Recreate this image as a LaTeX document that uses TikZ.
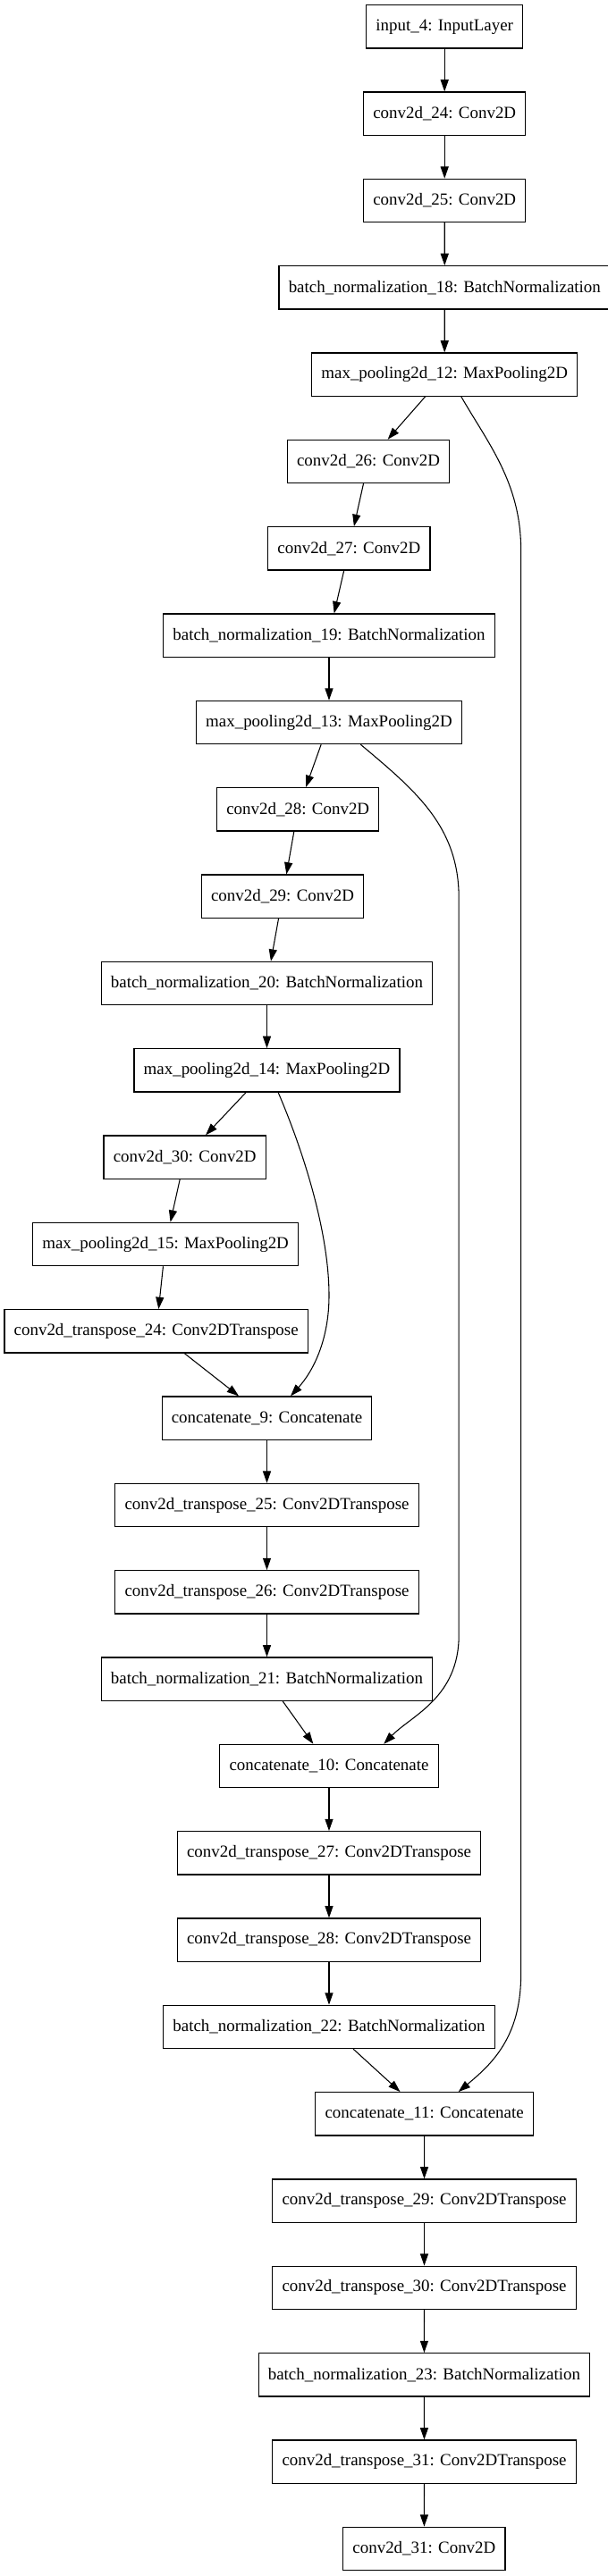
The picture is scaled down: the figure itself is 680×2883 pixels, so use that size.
\documentclass[tikz,border=0pt]{standalone}
\usepackage{fontspec}
\setmainfont{Liberation Serif}
\usepackage{tikz}
\usetikzlibrary{shapes,arrows.meta,positioning}

\tikzset{
  layer/.style={draw=black, line width=0.9pt, rectangle, inner xsep=8pt, inner ysep=2pt,
                minimum height=36.2pt, font=\fontsize{14.2}{17}\selectfont},
  link/.style={line width=0.8pt, -{Triangle[length=10pt,width=6.8pt]}}
}

\begin{document}
\begin{tikzpicture}[x=0.75pt,y=-0.75pt]
\useasboundingbox (0,0) rectangle (680,2883);

% Encoder: stage 1
\node[layer] (in4)  at (497.2,29.9)  {input\_4: InputLayer};
\node[layer] (c24)  at (497.2,127.2) {conv2d\_24: Conv2D};
\node[layer] (c25)  at (497.2,224.5) {conv2d\_25: Conv2D};
\node[layer] (bn18) at (497.3,321.8) {batch\_normalization\_18: BatchNormalization};
\node[layer] (mp12) at (497.2,419.2) {max\_pooling2d\_12: MaxPooling2D};

% Encoder: stage 2
\node[layer] (c26)  at (412.0,516.5) {conv2d\_26: Conv2D};
\node[layer] (c27)  at (390.4,613.8) {conv2d\_27: Conv2D};
\node[layer] (bn19) at (368.0,711.2) {batch\_normalization\_19: BatchNormalization};
\node[layer] (mp13) at (368.0,808.5) {max\_pooling2d\_13: MaxPooling2D};

% Encoder: stage 3
\node[layer] (c28)  at (333.2,905.8)  {conv2d\_28: Conv2D};
\node[layer] (c29)  at (316.0,1003.2) {conv2d\_29: Conv2D};
\node[layer] (bn20) at (298.5,1100.5) {batch\_normalization\_20: BatchNormalization};
\node[layer] (mp14) at (298.5,1197.8) {max\_pooling2d\_14: MaxPooling2D};

% Bottleneck
\node[layer] (c30)  at (206.7,1295.1) {conv2d\_30: Conv2D};
\node[layer] (mp15) at (185.1,1392.5) {max\_pooling2d\_15: MaxPooling2D};
\node[layer] (ct24) at (174.7,1489.8) {conv2d\_transpose\_24: Conv2DTranspose};

% Decoder: stage 1
\node[layer] (cat9) at (298.5,1587.1) {concatenate\_9: Concatenate};
\node[layer] (ct25) at (298.5,1684.5) {conv2d\_transpose\_25: Conv2DTranspose};
\node[layer] (ct26) at (298.5,1781.8) {conv2d\_transpose\_26: Conv2DTranspose};
\node[layer] (bn21) at (298.5,1879.1) {batch\_normalization\_21: BatchNormalization};

% Decoder: stage 2
\node[layer] (cat10) at (368.0,1976.5) {concatenate\_10: Concatenate};
\node[layer] (ct27)  at (368.0,2073.8) {conv2d\_transpose\_27: Conv2DTranspose};
\node[layer] (ct28)  at (368.0,2171.1) {conv2d\_transpose\_28: Conv2DTranspose};
\node[layer] (bn22)  at (368.0,2268.4) {batch\_normalization\_22: BatchNormalization};

% Decoder: stage 3
\node[layer] (cat11) at (474.6,2365.8) {concatenate\_11: Concatenate};
\node[layer] (ct29)  at (474.5,2463.1) {conv2d\_transpose\_29: Conv2DTranspose};
\node[layer] (ct30)  at (474.5,2560.4) {conv2d\_transpose\_30: Conv2DTranspose};
\node[layer] (bn23)  at (474.4,2657.8) {batch\_normalization\_23: BatchNormalization};
\node[layer] (ct31)  at (474.5,2755.1) {conv2d\_transpose\_31: Conv2DTranspose};
\node[layer] (c31)   at (474.4,2852.4) {conv2d\_31: Conv2D};

% Main chain
\draw[link] (in4) -- (c24);
\draw[link] (c24) -- (c25);
\draw[link] (c25) -- (bn18);
\draw[link] (bn18) -- (mp12);
\draw[link] (mp12) -- (c26);
\draw[link] (c26) -- (c27);
\draw[link] (c27) -- (bn19);
\draw[link] (bn19) -- (mp13);
\draw[link] (mp13) -- (c28);
\draw[link] (c28) -- (c29);
\draw[link] (c29) -- (bn20);
\draw[link] (bn20) -- (mp14);
\draw[link] (mp14) -- (c30);
\draw[link] (c30) -- (mp15);
\draw[link] (mp15) -- (ct24);
\draw[link] (ct24) -- (cat9);
\draw[link] (cat9) -- (ct25);
\draw[link] (ct25) -- (ct26);
\draw[link] (ct26) -- (bn21);
\draw[link] (bn21) -- (cat10);
\draw[link] (cat10) -- (ct27);
\draw[link] (ct27) -- (ct28);
\draw[link] (ct28) -- (bn22);
\draw[link] (bn22) -- (cat11);
\draw[link] (cat11) -- (ct29);
\draw[link] (ct29) -- (ct30);
\draw[link] (ct30) -- (bn23);
\draw[link] (bn23) -- (ct31);
\draw[link] (ct31) -- (c31);

% Skip connections
\draw[link] (mp14.-63) .. controls (340,1290) and (368,1380) .. (368,1450)
  .. controls (368,1500) and (350,1535) .. (cat9.43);
\draw[link] (mp13.-35) .. controls (465,885) and (513.2,925) .. (513.2,1005)
  -- (513.2,1830) .. controls (513.2,1900) and (460,1920) .. (cat10.22);
\draw[link] (mp12.-53) .. controls (545,495) and (582.6,540) .. (582.6,615)
  -- (582.6,2210) .. controls (582.6,2280) and (550,2310) .. (cat11.33);
\end{tikzpicture}
\end{document}
